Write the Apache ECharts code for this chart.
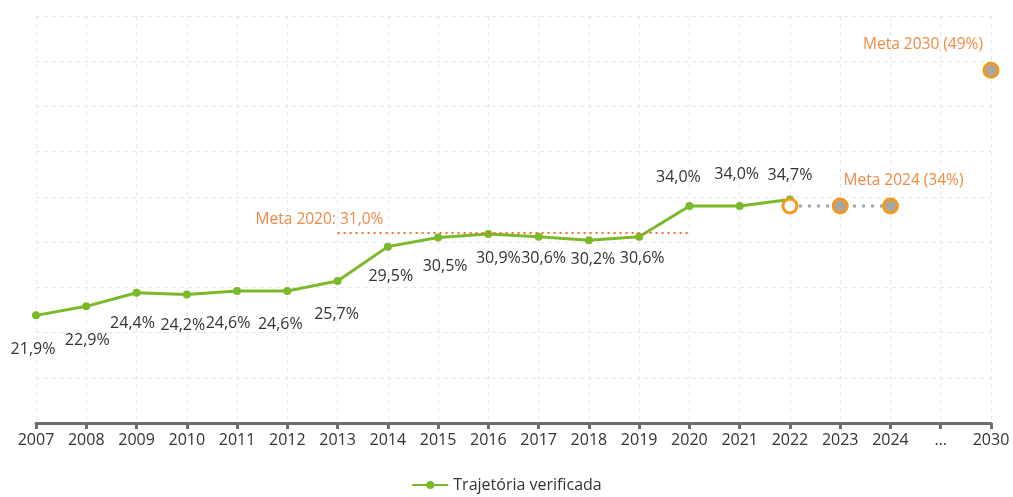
<!DOCTYPE html>
<html>
<head>
<meta charset="utf-8">
<script src="https://cdn.jsdelivr.net/npm/echarts@6/dist/echarts.min.js"></script>
<style>
  html, body { margin: 0; padding: 0; background: #fff; }
  #chart { width: 1013px; height: 497px; }
</style>
</head>
<body>
<div id="chart"></div>
<script>
// categorias do eixo x
const anos = ['2007', '2008', '2009', '2010', '2011', '2012', '2013', '2014', '2015', '2016',
  '2017', '2018', '2019', '2020', '2021', '2022', '2023', '2024', '…', '2030'];
// trajetória verificada (%)
const verificada = [21.9, 22.9, 24.4, 24.2, 24.6, 24.6, 25.7, 29.5, 30.5, 30.9,
  30.6, 30.2, 30.6, 34.0, 34.0, 34.7];
// metas (%)
const metas = [null, null, null, null, null, null, null, null, null, null,
  null, null, null, null, null, 34, 34, 34, null, 49];
const meta2020 = 31.0;
const meta2020Inicio = '2013';
const meta2020Fim = '2020';

// deslocamentos dos rótulos (só estilo)
const rotuloAcima = [false, false, false, false, false, false, false, false, false, false,
  false, false, false, true, true, true];
const rotuloDesloc = [[-3, 8], [1, 8], [-4, 5], [-4, 5], [-9, 6], [-7, 7], [-1, 7], [3, 4], [7, 3], [10, -2],
  [5, -4], [4, -7], [3, -4], [-11, -6], [-3, -9], [0, -2]];

const verde = '#7ab929';
const laranja = '#f39a1e';
const laranjaTexto = '#ef8a45';
const cinza = '#a6a6a6';

const dadosVerde = verificada.map((v, i) => ({
  value: v,
  label: {
    position: rotuloAcima[i] ? 'top' : 'bottom',
    distance: rotuloAcima[i] ? 10 : 14,
    offset: rotuloDesloc[i]
  }
}));

const dadosMeta = metas.map((v, i) => {
  if (v == null) return null;
  const item = { value: v };
  if (i === 15) {
    item.itemStyle = { color: '#fff' };
  }
  if (i === 17) {
    item.label = { show: true, formatter: 'Meta 2024 (34%)', position: 'top', distance: 9, offset: [13, 0] };
  }
  if (i === 19) {
    item.label = { show: true, formatter: 'Meta 2030 (49%)', position: 'top', distance: 9, offset: [-68, 0] };
  }
  return item;
});

const chart = echarts.init(document.getElementById('chart'));
chart.setOption({
  animation: false,
  textStyle: { fontFamily: 'Open Sans' },
  grid: { left: 36, right: 22, top: 16, bottom: 74 },
  legend: {
    data: ['Trajetória verificada'],
    bottom: -1,
    left: 'center',
    itemWidth: 36,
    itemHeight: 10,
    textStyle: { fontSize: 16, color: '#333', fontFamily: 'Open Sans' }
  },
  xAxis: {
    type: 'category',
    data: anos,
    boundaryGap: false,
    axisLine: { lineStyle: { color: '#6e6e6e', width: 3 } },
    axisTick: { show: true, length: 6, lineStyle: { color: '#6e6e6e', width: 3 } },
    axisLabel: { color: '#333', fontSize: 16, margin: 9, fontFamily: 'Open Sans' },
    splitLine: { show: true, lineStyle: { color: '#e6e6e6', type: [4, 4] } }
  },
  yAxis: {
    type: 'value',
    min: 10,
    max: 55,
    interval: 5,
    axisLine: { show: false },
    axisTick: { show: false },
    axisLabel: { show: false },
    splitLine: { show: true, lineStyle: { color: '#e6e6e6', type: [4, 4] } }
  },
  series: [
    {
      name: 'Meta 2020',
      type: 'line',
      data: [],
      silent: true,
      markLine: {
        silent: true,
        symbol: 'none',
        lineStyle: { color: '#e8702a', type: [2, 4], width: 2 },
        label: {
          show: true,
          formatter: 'Meta 2020: 31,0%',
          position: 'insideStartTop',
          distance: 5,
          offset: [-87, 0],
          color: laranjaTexto,
          fontSize: 15.5,
          fontFamily: 'Open Sans'
        },
        data: [[{ coord: [meta2020Inicio, meta2020] }, { coord: [meta2020Fim, meta2020] }]]
      }
    },
    {
      name: 'Metas',
      type: 'line',
      data: dadosMeta,
      connectNulls: false,
      symbol: 'circle',
      symbolSize: 14,
      showAllSymbol: true,
      lineStyle: { color: cinza, width: 3, type: [3, 6] },
      itemStyle: { color: cinza, borderColor: laranja, borderWidth: 3 },
      label: { color: laranjaTexto, fontSize: 15.5, fontFamily: 'Open Sans' },
      z: 3
    },
    {
      name: 'Trajetória verificada',
      type: 'line',
      data: dadosVerde,
      symbol: 'circle',
      symbolSize: 8,
      showAllSymbol: true,
      color: verde,
      lineStyle: { color: verde, width: 3 },
      itemStyle: { color: verde },
      label: {
        show: true,
        formatter: p => p.value.toFixed(1).replace('.', ',') + '%',
        color: '#333',
        fontSize: 16,
        fontFamily: 'Open Sans'
      },
      z: 2
    }
  ]
});
</script>
</body>
</html>
